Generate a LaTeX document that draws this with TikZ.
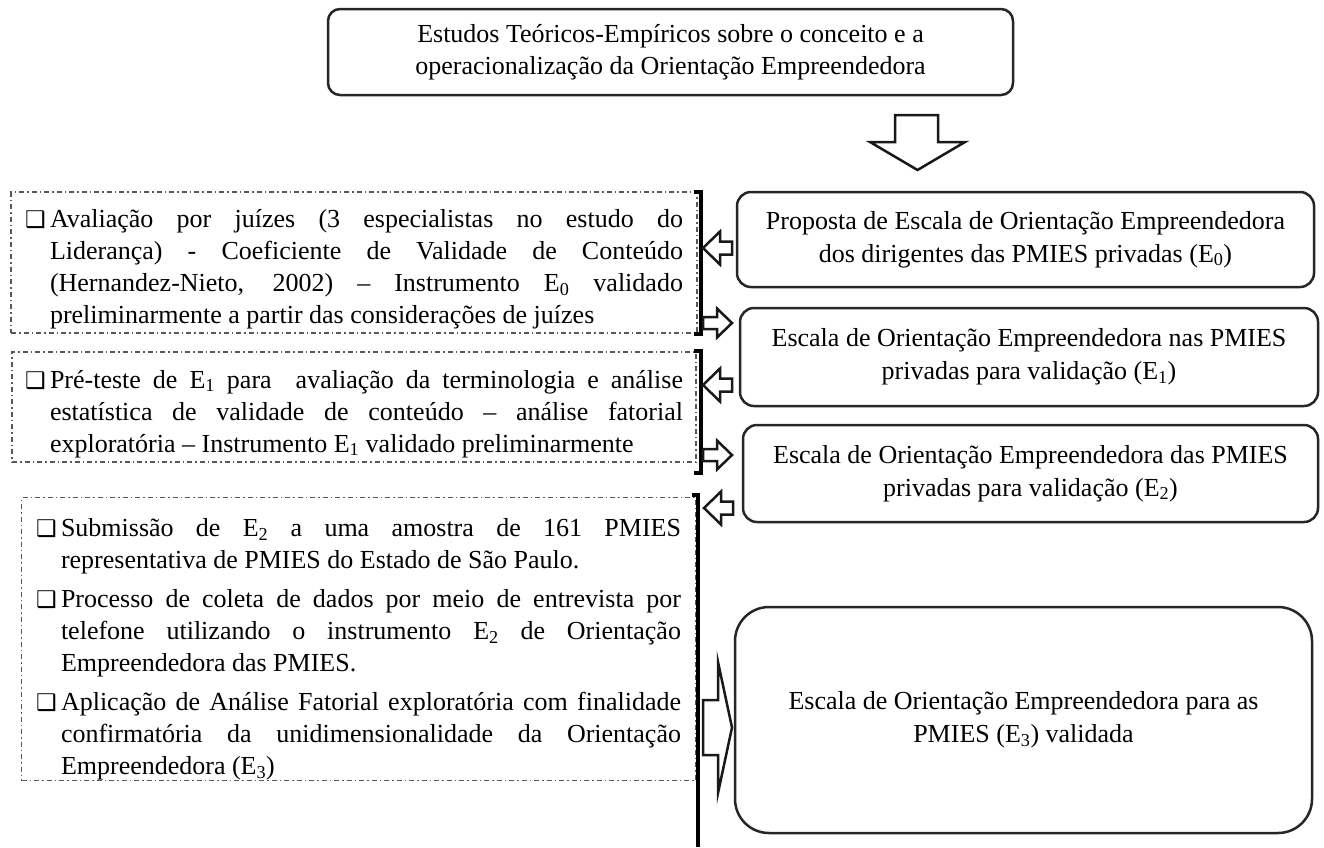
\documentclass[tikz,border=0pt]{standalone}
\usepackage{fontspec}
\setmainfont{Liberation Serif}
\newfontfamily\symfont{DejaVu Sans}
\usepackage{tikz}
\usetikzlibrary{positioning}
\tikzset{
  topbox/.style={draw=black!85, line width=2.5pt, rounded corners=12pt, align=center, inner sep=0pt,
    font=\fontsize{26}{32}\selectfont},
  stagebox/.style={draw=black!85, line width=2.5pt, rounded corners=14pt, align=center, inner sep=0pt,
    font=\fontsize{26}{33}\selectfont},
  notebox/.style={draw=black!65, line width=1.8pt, dash pattern=on 5pt off 3pt on 1.5pt off 3pt,
    align=justify, inner sep=0pt, font=\fontsize{26}{32}\selectfont},
  bracketline/.style={line width=3.5pt},
  hollowarrow/.style={draw=black!90, line width=2.5pt, fill=white, line join=miter},
}
\newcommand{\chk}{\makebox[25pt][l]{\symfont\fontsize{23}{23}\selectfont ❑}}
\newcommand{\chkpar}{\par\baselineskip=32pt\hangindent=25pt\hangafter=1\noindent\chk}

\begin{document}
\begin{tikzpicture}[x=1pt,y=-1pt]
        \useasboundingbox (0,0) rectangle (1324,847);
        \node (estudos) at (670.5,52) [topbox,minimum width=685pt,minimum height=86pt] {Estudos Teóricos-Empíricos sobre o conceito e a\\operacionalização da Orientação Empreendedora};
        \draw [hollowarrow] (895,115) -- (938,115) -- (938,142) -- (965,142) -- (917.5,170) -- (870,142) -- (895,142) -- cycle;
        % escalas
        \node (e0) at (1025.5,239.5) [stagebox,minimum width=577pt,minimum height=95pt] {Proposta de Escala de Orientação Empreendedora\\dos dirigentes das PMIES privadas (E\textsubscript{0})};
        \node (e1) at (1029,357) [stagebox,minimum width=578pt,minimum height=98pt] {Escala de Orientação Empreendedora nas PMIES\\privadas para validação (E\textsubscript{1})};
        \node (e2) at (1030.5,473.5) [stagebox,minimum width=575pt,minimum height=97pt] {Escala de Orientação Empreendedora das PMIES\\privadas para validação (E\textsubscript{2})};
        \node (e3) at (1023.5,720) [stagebox,rounded corners=34pt,minimum width=577pt,minimum height=226pt] {Escala de Orientação Empreendedora para as\\PMIES (E\textsubscript{3}) validada};
        % etapas
        \node (juizes) at (354,262.5) [notebox,minimum width=686pt,minimum height=141pt,text width=658pt] {\chkpar Avaliação por juízes (3 especialistas no estudo do\linebreak Liderança) - Coeficiente de Validade de Conteúdo\linebreak (Hernandez-Nieto, 2002) -- Instrumento E\textsubscript{0} validado\linebreak preliminarmente a partir das considerações de juízes\par};
        \node (preteste) at (354,407) [notebox,minimum width=684pt,minimum height=110pt,text width=658pt] {\chkpar Pré-teste de E\textsubscript{1} para\ \ avaliação da terminologia e análise\linebreak estatística de validade de conteúdo -- análise fatorial\linebreak exploratória -- Instrumento E\textsubscript{1} validado preliminarmente\par};
        \node (amostra) at (358.5,639) [notebox,minimum width=674pt,minimum height=283pt,text width=645pt] {\parskip=7pt\chkpar Submissão de E\textsubscript{2} a uma amostra de 161 PMIES\linebreak representativa de PMIES do Estado de São Paulo.
          \chkpar Processo de coleta de dados por meio de entrevista por\linebreak telefone utilizando o instrumento E\textsubscript{2} de Orientação\linebreak Empreendedora das PMIES.
          \chkpar Aplicação de Análise Fatorial exploratória com finalidade\linebreak confirmatória da unidimensionalidade da Orientação\linebreak Empreendedora (E\textsubscript{3})\par};
        \draw [bracketline] (694,192) -- (701,192) -- (701,334) -- (694,334);
        \draw [bracketline] (694,351) -- (701,351) -- (701,473) -- (694,473);
        \draw [bracketline] (692,495) -- (698,495) -- (698,847);
        % setas
        \draw [hollowarrow] (732,241.5) -- ++(-12,0) -- ++(0,-10) -- ++(-17,16.5) -- ++(17,16.5) -- ++(0,-10) -- ++(12,0) -- cycle;
        \draw [hollowarrow] (703,317) -- ++(14,0) -- ++(0,-8.5) -- ++(15,14.5) -- ++(-15,14.5) -- ++(0,-8.5) -- ++(-14,0) -- cycle;
        \draw [hollowarrow] (732,378.5) -- ++(-12,0) -- ++(0,-10) -- ++(-17,16.5) -- ++(17,16.5) -- ++(0,-10) -- ++(12,0) -- cycle;
        \draw [hollowarrow] (703,449) -- ++(14,0) -- ++(0,-8.5) -- ++(15,14.5) -- ++(-15,14.5) -- ++(0,-8.5) -- ++(-14,0) -- cycle;
        \draw [hollowarrow] (733,501.5) -- ++(-12,0) -- ++(0,-10) -- ++(-17,16.5) -- ++(17,16.5) -- ++(0,-10) -- ++(12,0) -- cycle;
        \draw [hollowarrow] (703,700) -- (718,700) -- (718,662) -- (732,727.5) -- (718,793) -- (718,755) -- (703,755) -- cycle;
      \end{tikzpicture}
\end{document}
